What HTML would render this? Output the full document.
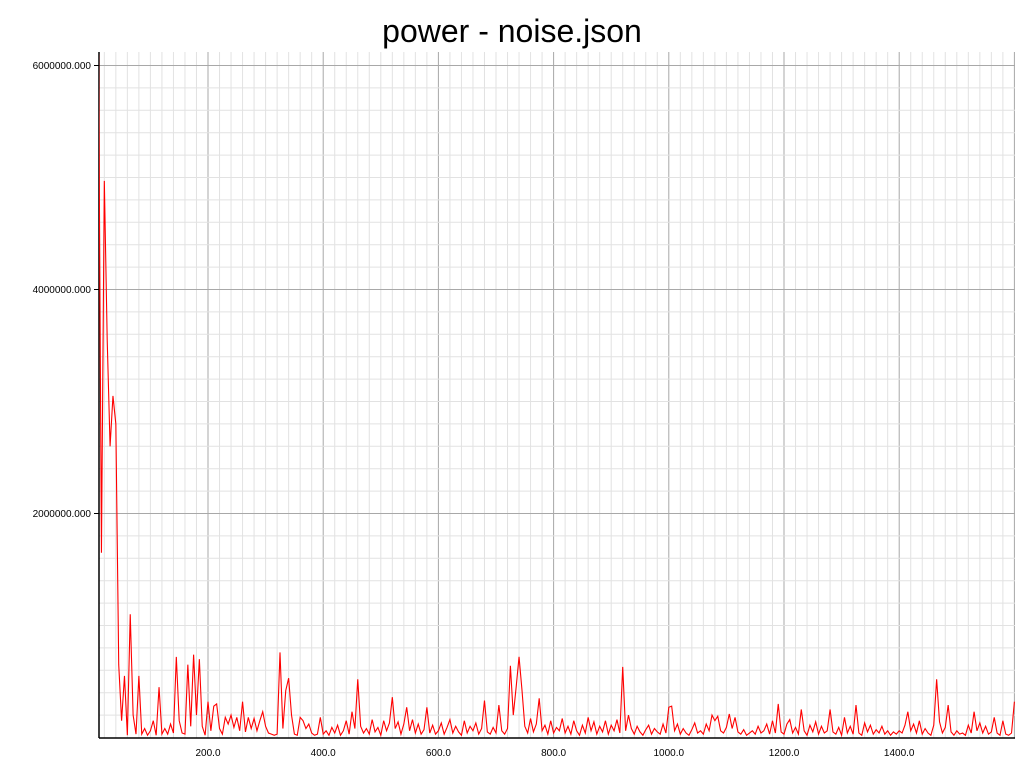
<!DOCTYPE html>
<html><head><meta charset="utf-8"><style>
html,body{margin:0;padding:0;background:#fff;}
svg{display:block;font-family:"Liberation Sans",Arial,sans-serif;}
</style></head><body>
<svg id="chart" width="1024" height="768" viewBox="0 0 1024 768">
<text x="512" y="42" font-size="32" text-anchor="middle" fill="#000">power - noise.json</text>
<g id="grid"></g>
<g id="axes"></g>
<g id="series"></g>
</svg>
<script>
const xTicks = [200, 400, 600, 800, 1000, 1200, 1400];
const xTickLabels = ["200.0","400.0","600.0","800.0","1000.0","1200.0","1400.0"];
const yTicks = [2000000, 4000000, 6000000];
const yTickLabels = ["2000000.000","4000000.000","6000000.000"];
const xStart = 10;
const xStep = 5;
const powerK = [
6100,1650,4970,3550,2600,3050,2800,650,150,550,20,1100,200,30,550,30,80,20,60,150,
20,450,30,80,30,120,40,720,150,40,30,650,100,740,200,700,100,20,320,60,
280,300,80,30,180,120,200,90,180,60,320,50,180,80,170,60,150,230,100,40,
30,20,30,760,80,420,530,200,30,20,180,150,80,120,40,20,30,180,
30,60,20,90,40,110,20,60,150,30,230,80,520,100,40,80,30,160,50,90,
20,150,60,130,360,80,140,30,120,270,60,160,40,120,30,70,270,40,110,30,
60,130,30,90,160,40,100,50,20,150,40,100,60,130,30,80,330,50,30,90,
40,290,60,30,80,640,200,450,720,430,100,40,170,50,120,350,60,110,30,150,
40,90,60,170,40,100,30,150,60,20,110,40,180,60,140,30,100,50,150,30,
110,60,160,40,630,60,200,80,30,100,50,20,70,110,30,80,50,30,120,40,
270,280,60,120,30,80,40,20,70,130,40,60,30,120,60,200,150,190,60,40,
90,210,80,180,50,30,70,20,40,60,30,100,40,60,120,30,150,40,300,50,
30,120,160,40,90,30,250,60,20,110,50,140,30,100,40,60,250,50,30,90,
20,180,40,100,30,290,40,20,130,50,110,30,70,40,100,30,60,20,50,30,
60,40,110,230,60,120,40,150,30,80,40,20,110,520,140,40,90,290,50,20,
60,30,40,20,110,40,230,60,130,40,100,30,50,180,40,20,150,30,20,40,320
];
const NS='http://www.w3.org/2000/svg';
const L=99,R=1015,T=52,B=738;
const xs=u=>92.8+0.576*u;
const ys=v=>737.5-v*224/2000000;
function mk(tag,attrs,parent){const e=document.createElementNS(NS,tag);for(const k in attrs)e.setAttribute(k,attrs[k]);parent.appendChild(e);return e;}
const grid=document.getElementById('grid'),axes=document.getElementById('axes'),series=document.getElementById('series');
for(let u=20;u<=1600;u+=20){const x=xs(u);if(x<=L||x>R)continue;const major=u%200===0;
const ln=mk('line',{x1:x,x2:x,y1:T,y2:B,stroke:major?'#a8a8a8':'#e2e2e2','stroke-width':1},grid);

}
for(let v=200000;v<=6200000;v+=200000){const y=ys(v);if(y<T)continue;const major=v%2000000===0;
const ln=mk('line',{x1:L,x2:R,y1:y,y2:y,stroke:major?'#a8a8a8':'#e2e2e2','stroke-width':1},grid);

}
const ya=mk('line',{x1:L,x2:L,y1:T,y2:B,stroke:'#000','stroke-width':1.5},axes);


const xa=mk('line',{x1:L,x2:R,y1:B,y2:B,stroke:'#000','stroke-width':1.5},axes);


xTicks.forEach((u,i)=>{const t=mk('text',{x:xs(u),y:756,'font-size':10,'text-anchor':'middle',fill:'#000'},axes);t.textContent=xTickLabels[i];

});
yTicks.forEach((v,i)=>{const y=ys(v);const tk=mk('line',{x1:94,x2:L,y1:y,y2:y,stroke:'#000','stroke-width':1},axes);


const t=mk('text',{x:91,y:y+3.5,'font-size':10,'text-anchor':'end',fill:'#000'},axes);t.textContent=yTickLabels[i];

});
mk('clipPath',{id:'clip'},document.getElementById('chart')).appendChild(document.createElementNS(NS,'rect'));
const cr=document.querySelector('#clip rect');cr.setAttribute('x',L);cr.setAttribute('y',T);cr.setAttribute('width',R-L);cr.setAttribute('height',B-T);
const pts=powerK.map((k,i)=>xs(xStart+i*xStep).toFixed(2)+','+ys(k*1000).toFixed(2)).join(' ');
const pl=mk('polyline',{points:pts,fill:'none',stroke:'#ff0000','stroke-width':1.1,'clip-path':'url(#clip)'},series);


</script>
</body></html>
